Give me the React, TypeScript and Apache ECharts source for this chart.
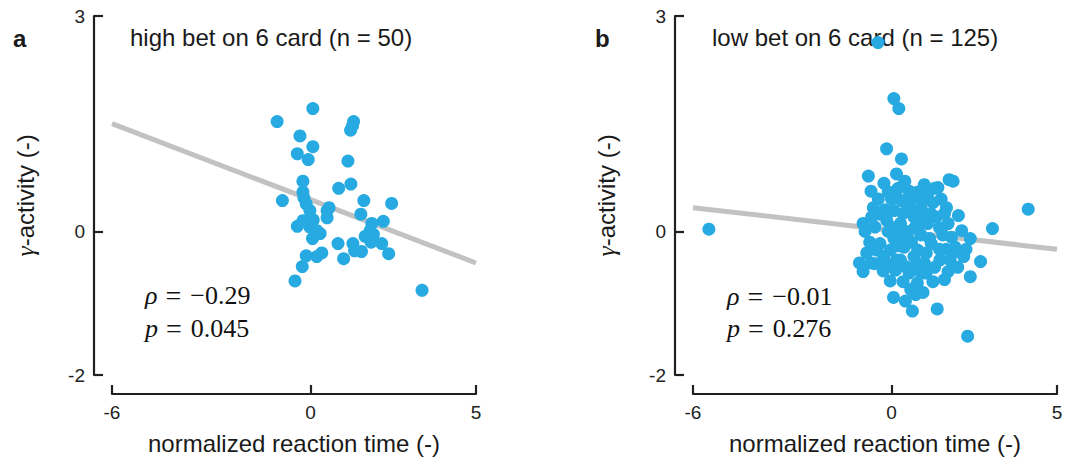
import React, { useEffect, useRef } from 'react';
import * as echarts from 'echarts';

const X_TICKS = [-6, 0, 5];
const Y_TICKS = [-2, 0, 3];
const X_NAME = 'normalized reaction time (-)';
const Y_NAME = '{g|γ}-activity (-)';
const TITLE_A = 'high bet on 6 card (n = 50)';
const TITLE_B = 'low bet on 6 card (n = 125)';
const RHO_A = '−0.29';
const P_A = '0.045';
const RHO_B = '−0.01';
const P_B = '0.276';

const FIT_A = [[-6, 1.5], [5, -0.44]];
const FIT_B = [[-6, 0.33], [5, -0.25]];

const POINTS_A = [
  [-1.01, 1.53], [0.07, 1.71], [-0.32, 1.33], [0.07, 1.18], [-0.4, 1.08], [-0.07, 1.0],
  [1.3, 1.53], [1.27, 1.47], [1.21, 1.41], [1.13, 0.98], [-0.23, 0.7], [1.22, 0.66],
  [0.85, 0.6], [-0.85, 0.43], [-0.23, 0.55], [-0.2, 0.47], [-0.13, 0.38], [1.61, 0.43],
  [2.45, 0.39], [0.56, 0.33], [-0.02, 0.29], [1.52, 0.24], [0.5, 0.19], [-0.23, 0.15],
  [-0.4, 0.07], [0.08, 0.16], [1.85, 0.11], [2.2, 0.14], [1.65, -0.07], [1.9, -0.04],
  [0.06, -0.1], [0.29, -0.03], [0.83, -0.17], [1.28, -0.17], [2.15, -0.17], [1.33, -0.27],
  [1.54, -0.28], [2.36, -0.31], [-0.13, -0.34], [0.34, -0.3], [0.19, -0.35], [1.0, -0.38],
  [-0.25, -0.49], [-0.47, -0.69], [3.37, -0.82], [1.8, 0.01], [-0.02, 0.06], [1.83, -0.15],
  [0.19, 0.01], [0.5, 0.29],
];

const POINTS_B = [
  [-5.52, 0.03], [-0.41, 2.63], [0.07, 1.85], [0.22, 1.71], [-0.15, 1.15], [0.3, 1.01],
  [-0.7, 0.77], [0.15, 0.8], [-0.23, 0.67], [-0.62, 0.56], [4.13, 0.31], [3.05, 0.04],
  [1.74, 0.72], [1.86, 0.7], [2.3, -1.46], [1.38, -1.08], [0.63, -1.11], [0.06, -0.92],
  [0.42, -0.97],
  [0.73, -0.88], [0.73, -0.77], [-0.97, -0.44], [-0.86, -0.56], [-0.62, -0.44], [-0.04, -0.69],
  [0.12, -0.54], [0.53, -0.58], [1.04, -0.58], [1.6, -0.67], [1.71, -0.56], [2.38, -0.63],
  [2.69, -0.42], [2.18, -0.35], [1.46, -0.4], [1.77, -0.4], [2.38, -0.1],
  [0.13, 0.56], [0.99, 0.65], [0.53, 0.56], [1.4, 0.61], [1.09, 0.52], [0.0, 0.45],
  [0.3, 0.43], [0.72, 0.47], [1.5, 0.45], [1.66, 0.33], [-0.55, 0.33], [-0.35, 0.24],
  [0.07, 0.29], [0.48, 0.36], [0.89, 0.33], [1.2, 0.24], [2.02, 0.22], [-0.86, 0.11],
  [-0.5, 0.06], [-0.14, 0.15], [0.27, 0.11], [0.68, 0.2], [1.09, 0.11], [1.71, 0.11],
  [2.12, 0.01], [-0.66, -0.15], [-0.35, -0.17], [0.07, -0.1], [0.48, -0.08], [0.89, -0.05],
  [1.2, -0.17], [1.81, -0.08], [-0.45, -0.26], [-0.04, -0.26], [0.38, -0.22], [0.79, -0.26],
  [1.92, -0.22], [-0.24, -0.35], [0.27, -0.4], [0.68, -0.35], [0.99, -0.44], [0.43, -0.49],
  [0.89, -0.58], [0.78, -0.72], [0.58, -0.81],
  [0.2, 0.6], [0.4, 0.7], [0.8, 0.55], [1.25, 0.4], [1.35, 0.2], [1.55, -0.05],
  [1.05, -0.3], [1.3, -0.5], [0.6, -0.15], [0.2, -0.2], [-0.1, 0.0], [0.1, 0.05],
  [0.45, 0.0], [0.85, 0.1], [1.0, 0.25], [0.6, 0.3], [0.35, 0.25], [-0.2, 0.3],
  [-0.4, 0.45], [-0.1, 0.55], [1.6, 0.25], [1.85, -0.3], [2.0, -0.5], [1.25, -0.7],
  [0.95, -0.85], [0.35, -0.7], [-0.25, -0.55], [-0.5, -0.45], [-0.75, -0.3], [-0.8, 0.0],
  [-0.6, 0.2], [1.45, 0.05], [1.15, -0.1], [0.7, -0.5], [0.15, -0.4], [-0.15, -0.45],
  [0.55, 0.45], [1.3, 0.6], [0.95, 0.45], [0.25, -0.05], [0.7, 0.05], [1.65, -0.25],
  [2.25, -0.25], [1.45, -0.25],
];

const INK = '#231f20';
const DOT = '#27aae1';
const FIT = '#c2c2c2';
const SANS = '"Liberation Sans", Arial, Helvetica, sans-serif';
const SERIF = '"Liberation Serif", "Times New Roman", serif';

function xAxis(gridIndex: number) {
  return {
    gridIndex,
    type: 'value',
    min: -6,
    max: 5,
    position: 'bottom',
    offset: 19,
    axisLine: { show: true, onZero: false, lineStyle: { color: INK, width: 2.2 } },
    axisTick: { show: true, inside: true, length: 9, customValues: X_TICKS, lineStyle: { color: INK, width: 2.2 } },
    axisLabel: { customValues: X_TICKS, margin: 9, fontSize: 19, color: '#222', fontFamily: SANS },
    splitLine: { show: false },
    name: X_NAME,
    nameLocation: 'middle',
    nameGap: 37,
    nameTextStyle: { fontSize: 24, color: '#1a1a1a', fontFamily: SANS },
  };
}

function yAxis(gridIndex: number) {
  return {
    gridIndex,
    type: 'value',
    min: -2,
    max: 3,
    position: 'left',
    offset: 18,
    axisLine: { show: true, onZero: false, lineStyle: { color: INK, width: 2.2 } },
    axisTick: { show: true, inside: true, length: 9, customValues: Y_TICKS, lineStyle: { color: INK, width: 2.2 } },
    axisLabel: { customValues: Y_TICKS, margin: 9, fontSize: 19, color: '#222', fontFamily: SANS },
    splitLine: { show: false },
    name: Y_NAME,
    nameLocation: 'middle',
    nameGap: 56,
    nameTextStyle: {
      fontSize: 24,
      color: '#1a1a1a',
      fontFamily: SANS,
      rich: { g: { fontFamily: SERIF, fontStyle: 'italic', fontSize: 26, color: '#1a1a1a' } },
    },
  };
}

function statText(x: number, y: number, sym: string, val: string) {
  return {
    type: 'text',
    x,
    y,
    style: {
      text: `{r|${sym}}{e|=}{m|${val}}`,
      verticalAlign: 'middle',
      align: 'left',
      fill: '#111',
      rich: {
        r: { fontFamily: SERIF, fontSize: 26, fontStyle: 'italic', fill: '#111' },
        e: { fontFamily: SERIF, fontSize: 28, fill: '#111', padding: [0, 9, 0, 8] },
        m: { fontFamily: SERIF, fontSize: 26, fill: '#111' },
      },
    },
  };
}

function plainText(x: number, y: number, text: string, bold = false) {
  return {
    type: 'text',
    x,
    y,
    style: {
      text,
      fill: '#1a1a1a',
      fontFamily: SANS,
      fontSize: 24,
      fontWeight: bold ? 'bold' : 'normal',
      align: 'left',
      verticalAlign: 'middle',
    },
  };
}

export default function App() {
  const ref = useRef<HTMLDivElement>(null);
  useEffect(() => {
    document.body.style.margin = '0';
    if (!ref.current) return;
    const chart = echarts.init(ref.current, undefined, { renderer: 'svg' });
    chart.setOption({
      animation: false,
      backgroundColor: '#ffffff',
      grid: [
        { left: 112, top: 16, width: 364, height: 364 },
        { left: 693, top: 16, width: 364, height: 364 },
      ],
      xAxis: [xAxis(0), xAxis(1)],
      yAxis: [yAxis(0), yAxis(1)],
      series: [
        { type: 'line', xAxisIndex: 0, yAxisIndex: 0, data: FIT_A, symbol: 'none', lineStyle: { color: FIT, width: 5 }, z: 1, silent: true },
        { type: 'scatter', xAxisIndex: 0, yAxisIndex: 0, data: POINTS_A, symbolSize: 13, itemStyle: { color: DOT, opacity: 1 }, z: 2 },
        { type: 'line', xAxisIndex: 1, yAxisIndex: 1, data: FIT_B, symbol: 'none', lineStyle: { color: FIT, width: 5 }, z: 1, silent: true },
        { type: 'scatter', xAxisIndex: 1, yAxisIndex: 1, data: POINTS_B, symbolSize: 13, itemStyle: { color: DOT, opacity: 1 }, z: 2 },
      ],
      graphic: [
        plainText(13, 38, 'a', true),
        plainText(130, 37, TITLE_A),
        statText(145, 295, 'ρ', RHO_A),
        statText(145, 328, 'p', P_A),
        plainText(595, 38, 'b', true),
        plainText(712, 37, TITLE_B),
        statText(727, 296, 'ρ', RHO_B),
        statText(727, 328, 'p', P_B),
      ],
    });
    return () => chart.dispose();
  }, []);
  return <div ref={ref} style={{ width: 1073, height: 460 }} />;
}
